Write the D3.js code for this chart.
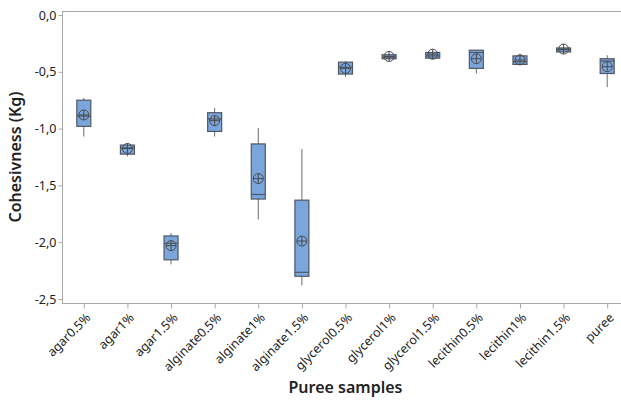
<!DOCTYPE html>
<html>
<head>
<meta charset="utf-8">
<script src="https://cdn.jsdelivr.net/npm/d3@7"></script>
<style>
  body { margin: 0; background: #fff; }
  text { font-family: "Noto Sans", "Open Sans", sans-serif; fill: #222; }
</style>
</head>
<body>
<div id="chart"></div>
<script type="text/javascript">
// data (Kg)
var samples = ["agar0.5%", "agar1%", "agar1.5%", "alginate0.5%", "alginate1%", "alginate1.5%",
  "glycerol0.5%", "glycerol1%", "glycerol1.5%", "lecithin0.5%", "lecithin1%", "lecithin1.5%", "puree"];
var whiskerHigh = [-0.73, -1.13, -1.92, -0.82, -0.995, -1.18, -0.405, -0.345, -0.32, -0.31, -0.34, -0.29, -0.355];
var q3 =          [-0.75, -1.145, -1.945, -0.86, -1.135, -1.63, -0.415, -0.35, -0.33, -0.31, -0.36, -0.29, -0.385];
var median =      [-0.89, -1.17, -2.01, -0.915, -1.58, -2.265, -0.46, -0.37, -0.36, -0.33, -0.41, -0.305, -0.405];
var mean =        [-0.88, -1.175, -2.03, -0.93, -1.44, -1.99, -0.47, -0.365, -0.345, -0.385, -0.395, -0.30, -0.455];
var q1 =          [-0.98, -1.225, -2.155, -1.025, -1.62, -2.30, -0.52, -0.385, -0.38, -0.47, -0.435, -0.325, -0.515];
var whiskerLow =  [-1.07, -1.245, -2.195, -1.07, -1.80, -2.38, -0.545, -0.39, -0.385, -0.515, -0.435, -0.33, -0.635];
var yTicks = [0, -0.5, -1.0, -1.5, -2.0, -2.5];

var svgW = 621, svgH = 403;
var plotLeft = 62, plotRight = 629, plotTop = 11, plotBottom = 303;

var svg = d3.select("#chart").append("svg")
    .attr("width", svgW)
    .attr("height", svgH);

var x = d3.scalePoint().domain(samples).range([plotLeft, plotRight]).padding(0.5);
var y = d3.scaleLinear().domain([-2.5, 0]).range([299, 15]);

var fmt = function(d) { return d3.format(".1f")(d).replace(".", ",").replace("−", "-"); };

// frame: top line
svg.append("line")
    .attr("x1", plotLeft).attr("x2", svgW).attr("y1", plotTop + 0.5).attr("y2", plotTop + 0.5)
    .attr("stroke", "#a8a8a8");

// y axis
var yAxis = svg.append("g")
    .attr("transform", "translate(" + (plotLeft + 0.5) + ",0)")
    .call(d3.axisLeft(y).tickValues(yTicks).tickFormat(fmt).tickSize(4).tickSizeOuter(0));
yAxis.select(".domain").remove();
yAxis.append("line").attr("y1", plotTop).attr("y2", plotBottom).attr("stroke", "#a8a8a8");
yAxis.selectAll(".tick line").attr("stroke", "#a8a8a8");
yAxis.selectAll(".tick text").attr("font-size", 12.5).attr("fill", "#222")
    .attr("font-family", "Noto Sans").attr("x", -6);

// x axis
var xAxis = svg.append("g")
    .attr("transform", "translate(0," + (plotBottom + 0.5) + ")")
    .call(d3.axisBottom(x).tickSize(5).tickSizeOuter(0));
xAxis.select(".domain").remove();
xAxis.append("line").attr("x1", plotLeft).attr("x2", svgW).attr("stroke", "#a8a8a8");
xAxis.selectAll(".tick line").attr("stroke", "#a8a8a8");
xAxis.selectAll(".tick text")
    .attr("font-size", 12.5).attr("fill", "#222").attr("font-family", "Noto Sans")
    .attr("text-anchor", "end")
    .attr("dy", null).attr("y", 0)
    .attr("transform", "translate(7,15) rotate(-45)");

// boxes
var boxW = 14;
var g = svg.append("g");
samples.forEach(function(s, i) {
  var cx = x(s);
  g.append("line")
      .attr("x1", cx).attr("x2", cx)
      .attr("y1", y(whiskerHigh[i])).attr("y2", y(whiskerLow[i]))
      .attr("stroke", "#6a6a6a").attr("stroke-width", 1);
  g.append("rect")
      .attr("x", cx - boxW / 2).attr("width", boxW)
      .attr("y", y(q3[i])).attr("height", Math.max(1, y(q1[i]) - y(q3[i])))
      .attr("fill", "#7ba6dc").attr("stroke", "#4e5866").attr("stroke-width", 1.2);
  g.append("line")
      .attr("x1", cx - boxW / 2).attr("x2", cx + boxW / 2)
      .attr("y1", y(median[i])).attr("y2", y(median[i]))
      .attr("stroke", "#4e5866").attr("stroke-width", 1.2);
  // mean symbol: circle with cross
  var my = y(mean[i]);
  g.append("circle").attr("cx", cx).attr("cy", my).attr("r", 5)
      .attr("fill", "none").attr("stroke", "#4a4a4a").attr("stroke-width", 1);
  g.append("line").attr("x1", cx - 5).attr("x2", cx + 5).attr("y1", my).attr("y2", my)
      .attr("stroke", "#4a4a4a").attr("stroke-width", 1);
  g.append("line").attr("x1", cx).attr("x2", cx).attr("y1", my - 5).attr("y2", my + 5)
      .attr("stroke", "#4a4a4a").attr("stroke-width", 1);
});

// axis titles
svg.append("text")
    .attr("x", (plotLeft + plotRight) / 2).attr("y", 393)
    .attr("text-anchor", "middle")
    .attr("font-size", 16).attr("font-weight", 600)
    .text("Puree samples");

svg.append("text")
    .attr("transform", "translate(21," + ((plotTop + plotBottom) / 2) + ") rotate(-90)")
    .attr("text-anchor", "middle")
    .attr("font-size", 16).attr("font-weight", 600)
    .text("Cohesivness (Kg)");
</script>
</body>
</html>
